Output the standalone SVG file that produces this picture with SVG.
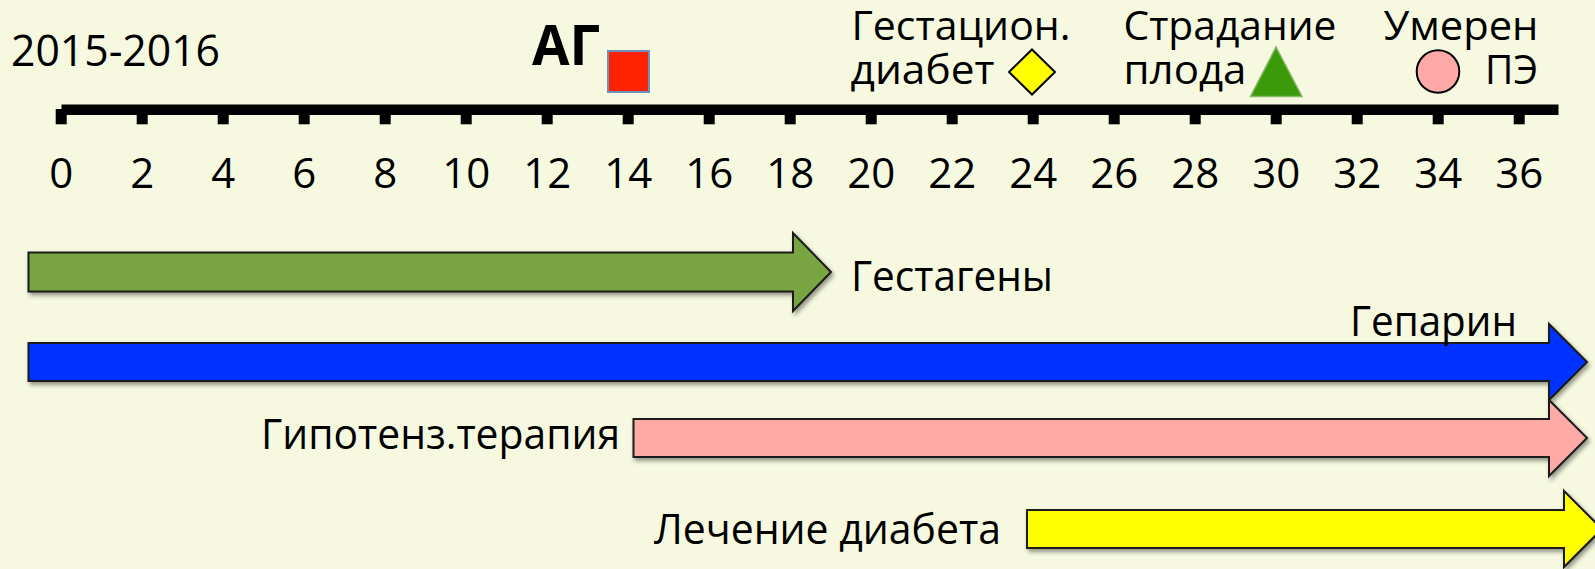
<svg xmlns="http://www.w3.org/2000/svg" width="1595" height="569" viewBox="0 0 1595 569">
  <defs>
    <style>
      .t { font-family: "Open Sans", "Noto Sans", "Liberation Sans", sans-serif; fill: #000; }
      .top { font-size: 39.5px; }
      .num { font-size: 42px; text-anchor: middle; }
      .lbl { font-size: 42px; }
      .bar { stroke: #1a1a1a; stroke-width: 2; stroke-linejoin: miter; filter: url(#shadow); }
      .tick { fill: #000; }
    </style>
    <filter id="shadow" x="-5%" y="-30%" width="110%" height="170%">
      <feDropShadow dx="2" dy="3" stdDeviation="2" flood-color="#000" flood-opacity="0.4"/>
    </filter>
  </defs>

  <!-- background -->
  <rect x="0" y="0" width="1595" height="569" fill="#F6F9E0"/>

  <!-- time axis with week ticks -->
  <g id="axis">
    <g class="tick">
      <rect x="55.7" y="109" width="11" height="15.3"/>
      <rect x="136.7" y="109" width="11" height="15.3"/>
      <rect x="217.7" y="109" width="11" height="15.3"/>
      <rect x="298.7" y="109" width="11" height="15.3"/>
      <rect x="379.7" y="109" width="11" height="15.3"/>
      <rect x="460.7" y="109" width="11" height="15.3"/>
      <rect x="541.7" y="109" width="11" height="15.3"/>
      <rect x="622.7" y="109" width="11" height="15.3"/>
      <rect x="703.7" y="109" width="11" height="15.3"/>
      <rect x="784.7" y="109" width="11" height="15.3"/>
      <rect x="865.7" y="109" width="11" height="15.3"/>
      <rect x="946.7" y="109" width="11" height="15.3"/>
      <rect x="1027.7" y="109" width="11" height="15.3"/>
      <rect x="1108.7" y="109" width="11" height="15.3"/>
      <rect x="1189.7" y="109" width="11" height="15.3"/>
      <rect x="1270.7" y="109" width="11" height="15.3"/>
      <rect x="1351.7" y="109" width="11" height="15.3"/>
      <rect x="1432.7" y="109" width="11" height="15.3"/>
      <rect x="1513.7" y="109" width="11" height="15.3"/>
    </g>
    <rect x="61.5" y="104.5" width="1497" height="10.5" fill="#000"/>
    <g class="t num">
      <text x="61.2" y="188">0</text>
      <text x="142.2" y="188">2</text>
      <text x="223.2" y="188">4</text>
      <text x="304.2" y="188">6</text>
      <text x="385.2" y="188">8</text>
      <text x="466.2" y="188">10</text>
      <text x="547.2" y="188">12</text>
      <text x="628.2" y="188">14</text>
      <text x="709.2" y="188">16</text>
      <text x="790.2" y="188">18</text>
      <text x="871.2" y="188">20</text>
      <text x="952.2" y="188">22</text>
      <text x="1033.2" y="188">24</text>
      <text x="1114.2" y="188">26</text>
      <text x="1195.2" y="188">28</text>
      <text x="1276.2" y="188">30</text>
      <text x="1357.2" y="188">32</text>
      <text x="1438.2" y="188">34</text>
      <text x="1519.2" y="188">36</text>
    </g>
  </g>

  <!-- period title -->
  <g id="period">
    <text class="t" x="11" y="65.5" font-size="43" textLength="209" lengthAdjust="spacingAndGlyphs">2015-2016</text>
  </g>

  <!-- events above the axis -->
  <g id="event-ag">
    <text class="t" x="532" y="65" font-size="56" font-weight="bold" textLength="68" lengthAdjust="spacingAndGlyphs">АГ</text>
    <rect x="608" y="51" width="41" height="41" fill="#FF2200" stroke="#6F8FC0" stroke-width="2"/>
  </g>

  <g id="event-gdm">
    <text class="t top" x="851.5" y="40" textLength="219" lengthAdjust="spacingAndGlyphs">Гестацион.</text>
    <text class="t top" x="850.5" y="83.5" textLength="144" lengthAdjust="spacingAndGlyphs">диабет</text>
    <polygon points="1032,49.5 1055,72 1032,94.5 1009,72" fill="#FFFF00" stroke="#000" stroke-width="2"/>
  </g>

  <g id="event-fetal">
    <text class="t top" x="1123.5" y="40" textLength="213" lengthAdjust="spacingAndGlyphs">Страдание</text>
    <text class="t top" x="1123.5" y="83.5" textLength="123" lengthAdjust="spacingAndGlyphs">плода</text>
    <polygon points="1276,47 1302,96.5 1250.5,96.5" fill="#3A9A0A" stroke="#86B86A" stroke-width="1.5"/>
  </g>

  <g id="event-pe">
    <text class="t top" x="1383.5" y="40" textLength="155" lengthAdjust="spacingAndGlyphs">Умерен</text>
    <text class="t top" x="1485" y="83.5" textLength="53" lengthAdjust="spacingAndGlyphs">ПЭ</text>
    <circle cx="1438" cy="71.5" r="21.3" fill="#FFAAA9" stroke="#000" stroke-width="2"/>
  </g>

  <!-- therapy bars -->
  <g id="bar-gestagens">
    <polygon class="bar" points="28.5,252.5 793,252.5 793,233 831,272 793,311 793,291.5 28.5,291.5" fill="#78A543"/>
    <text class="t lbl" x="851" y="291" textLength="202" lengthAdjust="spacingAndGlyphs">Гестагены</text>
  </g>

  <g id="bar-heparin">
    <polygon class="bar" points="28.5,343 1549,343 1549,324 1587,362 1549,400 1549,381 28.5,381" fill="#0033FF"/>
  </g>

  <g id="bar-antihypertensive">
    <polygon class="bar" points="633.5,419 1549,419 1549,400 1587,438 1549,476 1549,457 633.5,457" fill="#FFAAA6"/>
    <text class="t lbl" x="261" y="449" textLength="359" lengthAdjust="spacingAndGlyphs">Гипотенз.терапия</text>
  </g>

  <g id="bar-diabetes">
    <polygon class="bar" points="1027,510 1564,510 1564,491 1602,529 1564,567 1564,548 1027,548" fill="#FFFF00"/>
    <text class="t lbl" x="654" y="544" textLength="347" lengthAdjust="spacingAndGlyphs">Лечение диабета</text>
  </g>

  <!-- heparin label sits over its bar -->
  <g id="label-heparin">
    <text class="t lbl" x="1350" y="336" textLength="167" lengthAdjust="spacingAndGlyphs">Гепарин</text>
  </g>
</svg>
